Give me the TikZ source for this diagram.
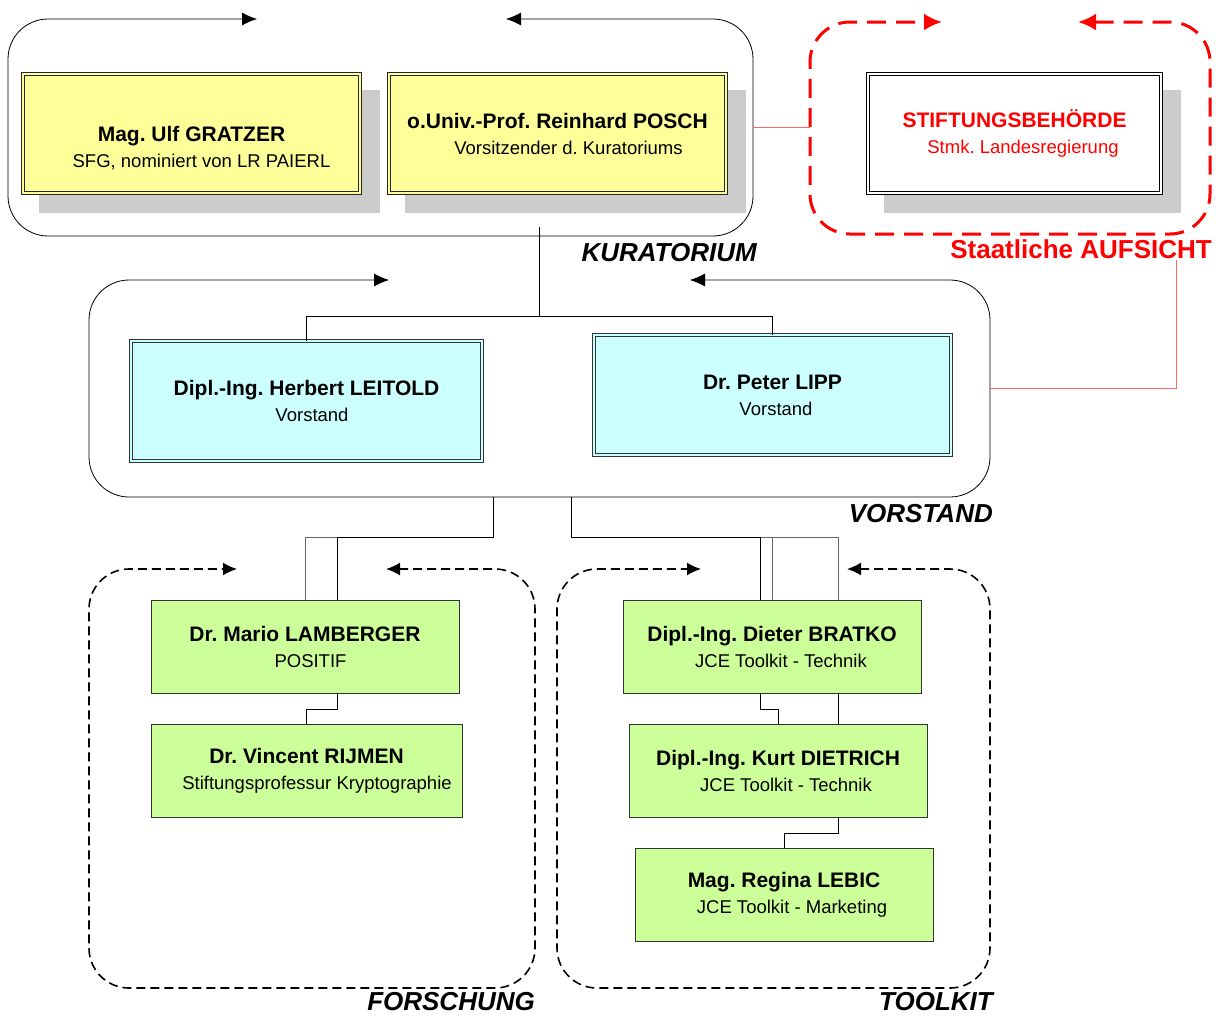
\documentclass[tikz,border=0pt]{standalone}
\usepackage{fontspec}
\setmainfont{Liberation Sans}
\usetikzlibrary{arrows.meta,calc}
\pgfdeclarelayer{background}
\pgfsetlayers{background,main}
\frenchspacing

\definecolor{kuryellow}{HTML}{FFFF99}
\definecolor{vorcyan}{HTML}{CCFFFF}
\definecolor{staffgreen}{HTML}{CCFF99}
\definecolor{shadowgray}{HTML}{CCCCCC}
\definecolor{aufred}{HTML}{FF0000}
\definecolor{linkred}{HTML}{FF6666}

\newcommand{\pname}[1]{{\fontsize{21}{26}\selectfont\bfseries #1}}

\begin{document}
\begin{tikzpicture}[x=1pt,y=1pt,yscale=-1,xscale=1,
		every node/.style={font=\fontsize{18.5}{26}\selectfont, align=center, inner sep=0pt},
		solidframe/.style={draw=black, line width=0.8pt, rounded corners=40pt, >={Latex[length=15pt,width=13pt]}, <->},
		dashframe/.style={draw=black, line width=1.6pt, dash pattern=on 9pt off 5pt, rounded corners=40pt, >={Latex[length=14pt,width=13pt]}, <->},
		redframe/.style={draw=aufred, line width=3pt, dash pattern=on 19pt off 10pt, rounded corners=40pt, >={Latex[length=18pt,width=17pt]}, <->},
		kurbox/.style={draw=black!85, line width=0.6pt, double=kuryellow, double distance=2.4pt, fill=kuryellow, minimum width=337pt, minimum height=119pt},
		aufbox/.style={draw=black, line width=0.6pt, double=white, double distance=2.4pt, fill=white, minimum width=293pt, minimum height=119pt, text=aufred},
		vorbox/.style={draw=black!80, line width=0.6pt, double=vorcyan, double distance=2.4pt, fill=vorcyan, minimum height=120pt},
		staffbox/.style={draw=black!80, line width=0.8pt, fill=staffgreen, minimum height=93pt},
		grouplabel/.style={font=\fontsize{26}{30}\selectfont\bfseries\itshape, anchor=base east},
		link/.style={draw=black, line width=0.9pt},
		thru/.style={draw=black!60, line width=0.8pt},
		redlink/.style={draw=linkred, line width=0.8pt}]
		\useasboundingbox (0,0) rectangle (1218,1015);

		% Group frames with the two arrows on top
		\draw[solidframe] (506,19) -| (753,236) -| (8,19) -- (257,19);
		\draw[solidframe] (690,280) -| (990,497) -| (89,280) -- (389,280);
		\draw[redframe] (1078,22) -| (1210,234) -| (810,22) -- (942,22);
		\draw[dashframe] (386,569) -| (535,988) -| (89,569) -- (237,569);
		\draw[dashframe] (847,569) -| (990,988) -| (557,569) -- (701,569);

		% Points on the frames where the links start
		\coordinate (kurfoot) at (539,227);
		\coordinate (kurright) at (753,127);
		\coordinate (aufleft) at (810,127);
		\coordinate (vorright) at (990,388);
		\coordinate (aufnote) at (1176,260);
		\coordinate (vorfootL) at (493,497);
		\coordinate (vorfootR) at (571,497);

		% Kuratorium
		\node[kurbox] (gratzer) at (191.5,133.5) {\strut\\\pname{Mag. Ulf GRATZER}\\\hspace*{20pt}SFG, nominiert von LR PAIERL};
		\node[kurbox] (posch) at (557.5,133.5) {\pname{o.Univ.-Prof. Reinhard POSCH}\\\hspace*{22pt}Vorsitzender d. Kuratoriums};

		% Staatliche Aufsicht
		\node[aufbox] (stift) at (1014.5,133.5) {\pname{STIFTUNGSBEH\"ORDE}\\\hspace*{17pt}Stmk. Landesregierung};

		% Vorstand
		\node[vorbox, minimum width=351pt] (leitold) at (306.5,401) {\pname{Dipl.-Ing. Herbert LEITOLD}\\\hspace*{11pt}Vorstand};
		\node[vorbox, minimum width=357pt] (lipp) at (772.5,395) {\pname{Dr. Peter LIPP}\\\hspace*{7pt}Vorstand};

		% Forschung
		\node[staffbox, minimum width=308pt] (lamberger) at (305,646.5) {\pname{Dr. Mario LAMBERGER}\\\hspace*{11pt}POSITIF};
		\node[staffbox, minimum width=311pt] (rijmen) at (306.5,770.5) {\pname{Dr. Vincent RIJMEN}\\\hspace*{21pt}Stiftungsprofessur Kryptographie};

		% Toolkit
		\node[staffbox, minimum width=298pt] (bratko) at (772,646.5) {\pname{Dipl.-Ing. Dieter BRATKO}\\\hspace*{18pt}JCE Toolkit - Technik};
		\node[staffbox, minimum width=298pt] (dietrich) at (778,770.5) {\pname{Dipl.-Ing. Kurt DIETRICH}\\\hspace*{16pt}JCE Toolkit - Technik};
		\node[staffbox, minimum width=298pt] (lebic) at (784,894.5) {\pname{Mag. Regina LEBIC}\\\hspace*{16pt}JCE Toolkit - Marketing};

		% Group labels
		\node[grouplabel] (kurlabel) at (757,261) {KURATORIUM};
		\node[grouplabel] (vorlabel) at (993,522) {VORSTAND};
		\node[grouplabel, font=\fontsize{26}{30}\selectfont\bfseries, text=aufred] (auflabel) at (1212,258) {Staatliche AUFSICHT};
		\node[grouplabel] (forlabel) at (535,1010) {FORSCHUNG};
		\node[grouplabel] (toollabel) at (993,1010) {TOOLKIT};

		% Shadows behind the upper boxes
		\begin{pgfonlayer}{background}
			\foreach \b in {gratzer,posch,stift}
				\fill[shadowgray] ($(\b.north west)+(16,16)$) rectangle ($(\b.south east)+(20,20)$);
		\end{pgfonlayer}

		% Kuratorium to Vorstand
		\draw[link] (kurfoot) -- ++(0,89) -| (leitold.north);
		\draw[link] (kurfoot) -- ++(0,89) -| (lipp.north);

		% Aufsicht links in red
		\draw[redlink] (kurright) -- (aufleft);
		\draw[redlink] (vorright) -| (aufnote);

		% Vorstand to Forschung
		\draw[thru] (vorfootL) -- ++(0,40.5) -| (lamberger.north);
		\draw[link] (vorfootL) -- ++(0,40.5) -| ($(lamberger.north)+(32,0)$);
		\draw[link] ($(lamberger.south)+(32,0)$) -- ++(0,16) -| (rijmen.north);

		% Vorstand to Toolkit
		\draw[thru] (vorfootR) -- ++(0,40.5) -| ($(bratko.north)+(66,0)$);
		\draw[thru] (vorfootR) -- ++(0,40.5) -| (bratko.north);
		\draw[link] (vorfootR) -- ++(0,40.5) -| ($(bratko.north)+(-12,0)$);
		\draw[link] ($(bratko.south)+(-12,0)$) -- ++(0,16) -| (dietrich.north);
		\draw[link] ($(bratko.south)+(66,0)$) -- ($(dietrich.north)+(60,0)$);
		\draw[link] ($(dietrich.south)+(60,0)$) -- ++(0,16) -| (lebic.north);
	\end{tikzpicture}
\end{document}
